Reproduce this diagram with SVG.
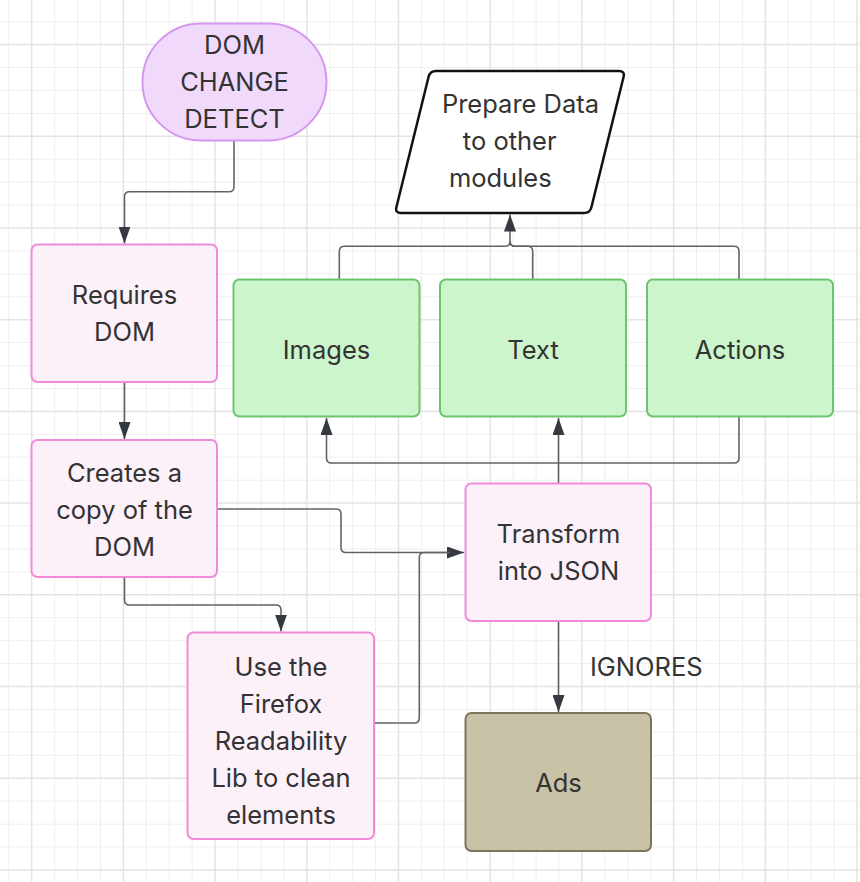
<svg xmlns="http://www.w3.org/2000/svg" width="860" height="882" viewBox="0 0 860 882">
<defs>
<style>
.minor{stroke:#efefef;stroke-width:1;fill:none}
.major{stroke:#e4e4e4;stroke-width:1.5;fill:none}
.lbl{font-family:Inter,"Noto Sans","Liberation Sans",sans-serif;font-size:25.5px;fill:#333;text-anchor:middle}
.pink{fill:#fcf0f9;stroke:#f08ad9;stroke-width:2}
.green{fill:#ccf5cc;stroke:#6ec46e;stroke-width:2}
.ads{fill:#c8c2a6;stroke:#7d755a;stroke-width:2}
.edge{fill:none;stroke:#5f6368;stroke-width:1.6}
</style>
<marker id="arr" viewBox="0 0 17 12" refX="17" refY="6" markerWidth="17" markerHeight="12" markerUnits="userSpaceOnUse" orient="auto">
<path d="M0,0 L17,6 L0,12 z" fill="#343a40"/>
</marker>
</defs>
<rect width="860" height="882" fill="#ffffff"/>
<g id="grid">
<path class="minor" d="M8.8,0V882M54.6,0V882M77.6,0V882M100.5,0V882M146.3,0V882M169.3,0V882M192.2,0V882M238,0V882M261,0V882M283.9,0V882M329.7,0V882M352.7,0V882M375.6,0V882M421.4,0V882M444.3,0V882M467.3,0V882M513.1,0V882M536.1,0V882M559,0V882M604.8,0V882M627.8,0V882M650.7,0V882M696.5,0V882M719.5,0V882M742.4,0V882M788.2,0V882M811.2,0V882M834.1,0V882M0,21.7H860M0,67.6H860M0,90.5H860M0,113.4H860M0,159.2H860M0,182.2H860M0,205.1H860M0,250.9H860M0,273.9H860M0,296.8H860M0,342.6H860M0,365.6H860M0,388.5H860M0,434.3H860M0,457.2H860M0,480.2H860M0,526H860M0,549H860M0,571.9H860M0,617.7H860M0,640.7H860M0,663.6H860M0,709.4H860M0,732.3H860M0,755.3H860M0,801.1H860M0,824.1H860M0,847H860"/>
<path class="major" d="M31.7,0V882M123.4,0V882M215.1,0V882M306.8,0V882M398.5,0V882M490.2,0V882M581.9,0V882M673.6,0V882M765.3,0V882M857,0V882M0,44.6H860M0,136.3H860M0,228H860M0,319.7H860M0,411.4H860M0,503.1H860M0,594.8H860M0,686.5H860M0,778.2H860M0,869.9H860"/>
</g>
<g id="connectors">
<path class="edge" marker-end="url(#arr)" d="M234,140 V186.7 Q234,191.7 229,191.7 H129.5 Q124.5,191.7 124.5,196.7 V243.5"/>
<path class="edge" marker-end="url(#arr)" d="M124.5,382 V439"/>
<path class="edge" marker-end="url(#arr)" d="M124.5,577 V600 Q124.5,605 129.5,605 H276 Q281,605 281,610 V631.5"/>
<path class="edge" marker-end="url(#arr)" d="M217,509 H336 Q341,509 341,514 V547.5 Q341,552.5 346,552.5 H464"/>
<path class="edge" d="M374,723 H414.3 Q419.3,723 419.3,718 V557.5 Q419.3,552.5 424.3,552.5 H450"/>
<path class="edge" marker-end="url(#arr)" d="M558.5,483 V418"/>
<path class="edge" marker-end="url(#arr)" d="M739,417 V458 Q739,463 734,463 H331.5 Q326.5,463 326.5,458 V418"/>
<path class="edge" marker-end="url(#arr)" d="M558.5,621 V712"/>
<path class="edge" marker-end="url(#arr)" d="M339.3,279 V251.7 Q339.3,246.3 344.3,246.3 H505 Q510,246.3 510,241.3 V214.5"/>
<path class="edge" d="M532.7,279 V251.3 Q532.7,246.3 527.7,246.3 H515 Q510,246.3 510,241.3"/>
<path class="edge" d="M739,279 V251.3 Q739,246.3 734,246.3 H515 Q510,246.3 510,241.3"/>
<text class="lbl" x="590" y="676" style="text-anchor:start">IGNORES</text>
</g>
<g id="dom-change-detect">
<rect x="142.5" y="23.5" width="184" height="117" rx="58.5" ry="58.5" fill="#f0d9fb" stroke="#d696f0" stroke-width="2"/>
<text class="lbl" x="234.5" y="54">DOM</text>
<text class="lbl" x="234.5" y="90.7">CHANGE</text>
<text class="lbl" x="234.5" y="127.7">DETECT</text>
</g>
<g id="prepare-data">
<path d="M436,71 H619 Q625,71 623.6,76.8 L591.4,207.2 Q590,213 584,213 H401 Q395,213 396.4,207.2 L428.6,76.8 Q430,71 436,71 Z" fill="#ffffff" stroke="#111111" stroke-width="2.5" stroke-linejoin="round"/>
<text class="lbl" x="520.5" y="113.3">Prepare Data</text>
<text class="lbl" x="509.7" y="150">to other</text>
<text class="lbl" x="500.3" y="186.7">modules</text>
</g>
<g id="requires-dom">
<rect class="pink" x="31.5" y="244.5" width="185.5" height="137.5" rx="6"/>
<text class="lbl" x="124.5" y="304">Requires</text>
<text class="lbl" x="124.5" y="341">DOM</text>
</g>
<g id="images">
<rect class="green" x="233.5" y="279.5" width="186" height="137" rx="6"/>
<text class="lbl" x="326.5" y="359.3">Images</text>
</g>
<g id="text">
<rect class="green" x="440" y="279.5" width="186" height="137" rx="6"/>
<text class="lbl" x="533" y="359.3">Text</text>
</g>
<g id="actions">
<rect class="green" x="647" y="279.5" width="186" height="137" rx="6"/>
<text class="lbl" x="740" y="359.3">Actions</text>
</g>
<g id="creates-copy">
<rect class="pink" x="31.5" y="440" width="185.5" height="137" rx="6"/>
<text class="lbl" x="124.5" y="481.7">Creates a</text>
<text class="lbl" x="124.5" y="518.5">copy of the</text>
<text class="lbl" x="124.5" y="555.5">DOM</text>
</g>
<g id="transform-json">
<rect class="pink" x="465.5" y="483.5" width="185.5" height="137.5" rx="6"/>
<text class="lbl" x="558.5" y="542.7">Transform</text>
<text class="lbl" x="558.5" y="580">into JSON</text>
</g>
<g id="readability">
<rect class="pink" x="187.5" y="632.5" width="186.5" height="206.5" rx="6"/>
<text class="lbl" x="281" y="676">Use the</text>
<text class="lbl" x="281" y="713">Firefox</text>
<text class="lbl" x="281" y="750">Readability</text>
<text class="lbl" x="281" y="787">Lib to clean</text>
<text class="lbl" x="281" y="824">elements</text>
</g>
<g id="ads">
<rect class="ads" x="465.5" y="713" width="185.5" height="138" rx="6"/>
<text class="lbl" x="558.5" y="791.7">Ads</text>
</g>
</svg>
